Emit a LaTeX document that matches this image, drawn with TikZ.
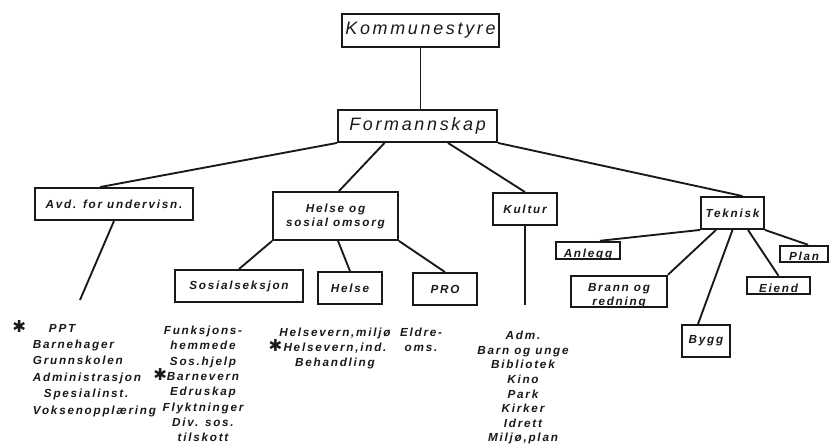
\documentclass[tikz,border=0pt]{standalone}
\usepackage{fontspec}
\usepackage{tikz}
\usetikzlibrary{calc}
\newfontfamily\scanfont[LetterSpace=15]{Liberation Sans}
\newfontfamily\starfont{DejaVu Sans}
\newcommand{\hstar}[1]{\llap{\smash{\starfont\fontsize{14}{14}\selectfont ✱}\hspace{#1}}}

\begin{document}
\begin{tikzpicture}[
          x=0.03cm, y=-0.03cm, color=black!90, line width=1.6pt,
          box/.style={draw, line width=1.6pt, inner sep=0pt, align=center, font=\scanfont\bfseries\itshape\fontsize{10}{12}\selectfont},
          topbox/.style={box, font=\scanfont\itshape\fontsize{15.3}{18}\selectfont},
          lowbox/.style={box, anchor=south, inner ysep=1pt, text depth=0pt},
          list/.style={inner sep=0pt, anchor=north, align=center, font=\scanfont\bfseries\itshape\fontsize{10}{#1}\selectfont}
      ]
        \useasboundingbox (0,0) rectangle (832,446);
        \node[topbox, minimum width=4.71cm, minimum height=0.99cm] (kommunestyre) at (420.5,30.5) {Kommunestyre};
        \node[topbox, minimum width=4.77cm, minimum height=0.96cm] (formannskap) at (417.5,126) {Formannskap};
        \node[box, minimum width=4.74cm, minimum height=0.96cm] (undervisning) at (114,204) {Avd. for undervisn.};
        \node[box, minimum width=3.75cm, minimum height=1.44cm] (helseomsorg) at (335.5,216) {Helse og\\sosial omsorg};
        \node[box, minimum width=1.92cm, minimum height=0.96cm] (kultur) at (525,209) {Kultur};
        \node[box, minimum width=1.89cm, minimum height=0.96cm] (teknisk) at (732.5,213) {Teknisk};
        \node[box, minimum width=3.84cm, minimum height=0.96cm] (sosial) at (239,286) {Sosialseksjon};
        \node[box, minimum width=1.92cm, minimum height=0.96cm] (helse) at (350,288) {Helse};
        \node[box, minimum width=1.92cm, minimum height=0.96cm] (pro) at (445,289) {PRO};
        \node[box, minimum width=1.44cm, minimum height=0.96cm] (bygg) at (706,341) {Bygg};
        \node[lowbox, minimum width=1.92cm, text height=0.45cm] (anlegg) at (588,260) {Anlegg};
        \node[lowbox, minimum width=2.88cm, text height=0.87cm] (brann) at (619,308) {\parbox[b]{2.8cm}{\centering Brann og\\redning}};
        \node[lowbox, minimum width=1.89cm, text height=0.45cm] (eiend) at (778.5,295) {Eiend};
        \node[lowbox, minimum width=1.44cm, text height=0.42cm] (plan) at (804,263) {Plan};
        \coordinate (undervend) at (80,300);
        \coordinate (kulturend) at (525,305);
        \node[list=14, anchor=north west, align=left] (undervliste) at (32,323) {\hspace*{13.7pt}\hstar{19.6pt}PPT\\Barnehager\\Grunnskolen\\Administrasjon\\\hspace*{9.4pt}Spesialinst.\\Voksenopplæring};
        \node[list=13.1] (sosialliste) at (203,325) {Funksjons-\\hemmede\\Sos.hjelp\\\hstar{0pt}Barnevern\\Edruskap\\Flyktninger\\Div. sos.\\tilskott};
        \node[list=12.8] (helseliste) at (335,327) {Helsevern,miljø\\\hstar{1pt}Helsevern,ind.\\Behandling};
        \node[list=12.8] (proliste) at (421,327) {Eldre-\\oms.};
        \node[list=12.5] (kulturliste) at (523,330) {Adm.\\Barn og unge\\Bibliotek\\Kino\\Park\\Kirker\\Idrett\\Miljø,plan};
        \draw (kommunestyre.south) -- (kommunestyre.south |- formannskap.north);
        \draw (formannskap.south west) -- ($(undervisning.north)+(-14,0)$);
        \draw ($(formannskap.south)+(-33,0)$) -- ($(helseomsorg.north)+(3.5,0)$);
        \draw ($(formannskap.south)+(30.5,0)$) -- (kultur.north);
        \draw (formannskap.south east) -- ($(teknisk.north)+(10,0)$);
        \draw (undervisning.south) -- (undervend);
        \draw (kultur.south) -- (kulturend);
        \draw (helseomsorg.south west) -- (sosial.north);
        \draw ($(helseomsorg.south)+(2.5,0)$) -- (helse.north);
        \draw (helseomsorg.south east) -- (pro.north);
        \draw (teknisk.south west) -- ($(anlegg.north)+(12,0)$);
        \draw ($(teknisk.south)+(-16.5,0)$) -- (brann.north east);
        \draw (teknisk.south) -- ($(bygg.north)+(-8,0)$);
        \draw ($(teknisk.south)+(15.5,0)$) -- (eiend.north);
        \draw (teknisk.south east) -- ($(plan.north)+(4,0)$);
      \end{tikzpicture}
\end{document}
